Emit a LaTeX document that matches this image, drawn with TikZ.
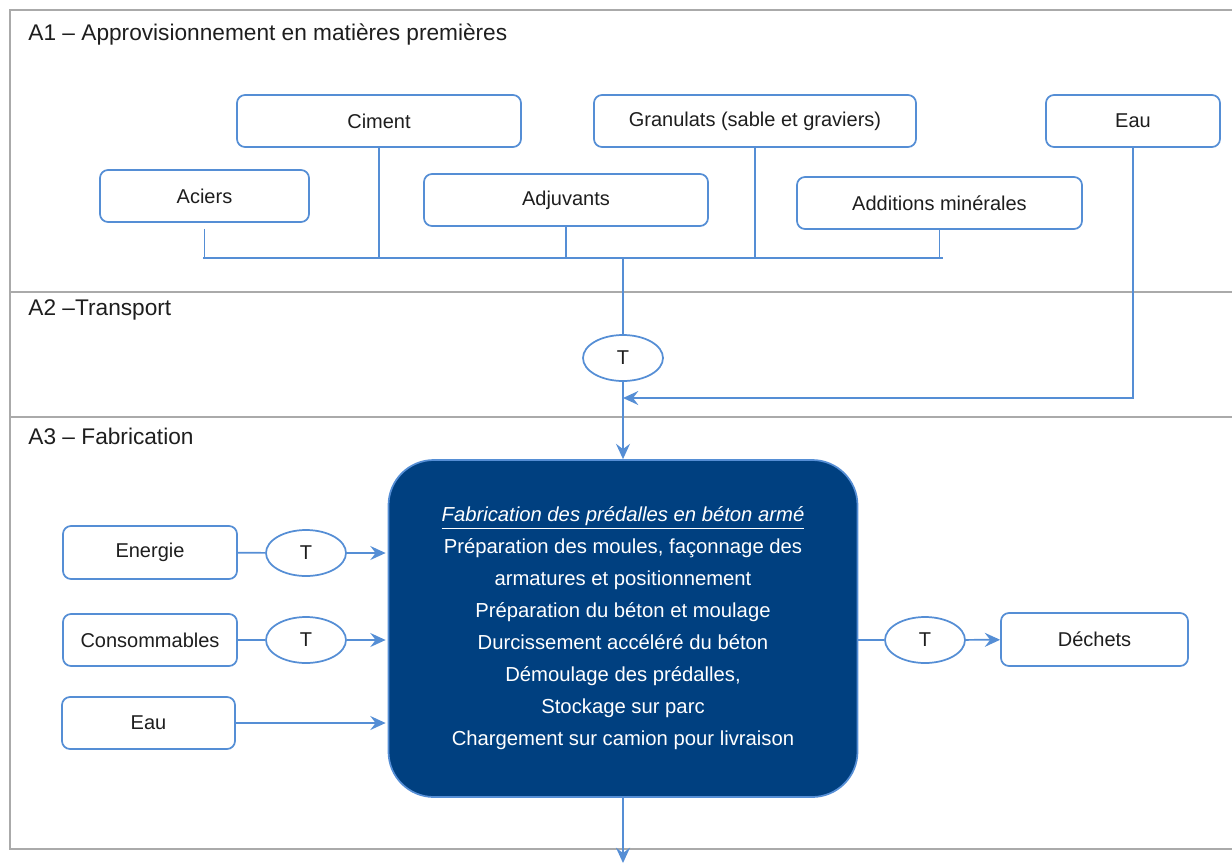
\documentclass[tikz,border=0pt]{standalone}
\usepackage{fontspec}
\setmainfont{Liberation Sans}
\usetikzlibrary{arrows.meta,shapes.geometric}

\definecolor{lineblue}{RGB}{85,142,213}
\definecolor{fabblue}{RGB}{0,64,128}
\definecolor{framegray}{RGB}{170,170,170}
\definecolor{txtgray}{RGB}{30,30,30}

\tikzset{every picture/.style={line width=0.75pt}}
\tikzset{
  matbox/.style={draw=lineblue, line width=1.3pt, rounded corners=6pt, fill=white,
    minimum height=39pt, inner sep=0pt, text=txtgray, font=\fontsize{15}{17}\selectfont},
  tbox/.style={ellipse, draw=lineblue, line width=1.3pt, fill=white,
    minimum width=60pt, minimum height=34.5pt, inner sep=0pt, text=txtgray, font=\fontsize{15}{17}\selectfont},
  fabbox/.style={draw=lineblue, line width=1.3pt, rounded corners=34pt, fill=fabblue,
    minimum width=351.75pt, minimum height=252.75pt, inner sep=0pt, text=white, align=center,
    font=\fontsize{15.2}{24}\selectfont},
  link/.style={draw=lineblue, line width=1.3pt},
  linkarrow/.style={link, -{Stealth[length=11.5pt,width=10.5pt,inset=4pt]}},
  frameline/.style={draw=framegray, line width=1.5pt},
  section/.style={anchor=west, inner sep=0pt, text=txtgray, font=\fontsize{17}{19}\selectfont}
}

\begin{document}
\begin{tikzpicture}[x=0.75pt,y=0.75pt,yscale=-1,xscale=1]
\useasboundingbox (0,0) rectangle (1232,865);

%Frame and swim lanes
\draw [frameline] (1232,10) -- (10,10) -- (10,849) -- (1232,849) ;
\draw [frameline] (10,292) -- (1232,292) ;
\draw [frameline] (10,417) -- (1232,417) ;

% Text Node
\node [section] (a1) at (28,35) {A1 – Approvisionnement en matières premières};
% Text Node
\node [section] (a2) at (28,310) {A2 –Transport};
% Text Node
\node [section] (a3) at (28,436) {A3 – Fabrication};

%Raw materials
\node [matbox, minimum width=213pt] (ciment) at (379,121) {Ciment};
\node [matbox, minimum width=241.5pt] (granulats) at (755,121) {Granulats (sable et graviers)};
\node [matbox, minimum width=130.5pt] (eauhaut) at (1133,121) {Eau};
\node [matbox, minimum width=156.75pt] (aciers) at (204.5,196) {Aciers};
\node [matbox, minimum width=213pt] (adjuvants) at (566,200) {Adjuvants};
\node [matbox, minimum width=213.75pt] (additions) at (939.5,203) {Additions minérales};

%Collector line
\coordinate (busL) at (203,258);
\coordinate (busR) at (943,258);
\coordinate (busM) at (623,258);
\draw [link] (busL) -- (busR) ;
\draw [link, shorten <=4.5pt] (aciers.south) -- (aciers.south |- busL) ;
\draw [link] (ciment.south) -- (ciment.south |- busL) ;
\draw [link] (adjuvants.south) -- (adjuvants.south |- busL) ;
\draw [link] (granulats.south) -- (granulats.south |- busL) ;
\draw [link] (additions.south) -- (additions.south |- busL) ;

%Transport
\node [tbox] (ttransport) at (623,358) {T};
\draw [link] (busM) -- (ttransport.north) ;
\coordinate (joineau) at (623,398);
\draw [linkarrow] (eauhaut.south) |- (joineau) ;

%Fabrication
\node [fabbox] (fab) at (623,628.5) {%
  \textit{\underline{Fabrication des prédalles en béton armé}}\\
  Préparation des moules, façonnage des\\
  armatures et positionnement\\
  Préparation du béton et moulage\\
  Durcissement accéléré du béton\\
  Démoulage des prédalles,\\
  Stockage sur parc\\
  Chargement sur camion pour livraison};
\draw [linkarrow] (ttransport.south) -- (fab.north) ;

%Inputs
\node [matbox, minimum width=130.5pt, minimum height=39.75pt] (energie) at (150,552.5) {Energie};
\node [tbox] (tenergie) at (306,553) {T};
\node [matbox, minimum width=130.5pt] (conso) at (150,640) {Consommables};
\node [tbox] (tconso) at (306,640) {T};
\node [matbox, minimum width=129.75pt] (eaubas) at (148.5,723) {Eau};
\draw [link] (energie) -- (tenergie) ;
\draw [linkarrow, shorten >=1.5pt] (tenergie) -- (fab.west |- tenergie) ;
\draw [link] (conso) -- (tconso) ;
\draw [linkarrow, shorten >=1.5pt] (tconso) -- (fab.west |- tconso) ;
\draw [linkarrow, shorten >=1.5pt] (eaubas) -- (fab.west |- eaubas) ;

%Outputs
\node [tbox] (tdechets) at (925,640) {T};
\node [matbox, minimum width=140.25pt, minimum height=39.75pt] (dechets) at (1094.5,639.5) {Déchets};
\draw [link] (fab.east |- tdechets) -- (tdechets) ;
\draw [linkarrow] (tdechets) -- (dechets) ;
\coordinate (sortie) at (623,863);
\draw [linkarrow] (fab.south) -- (sortie) ;

\end{tikzpicture}
\end{document}
